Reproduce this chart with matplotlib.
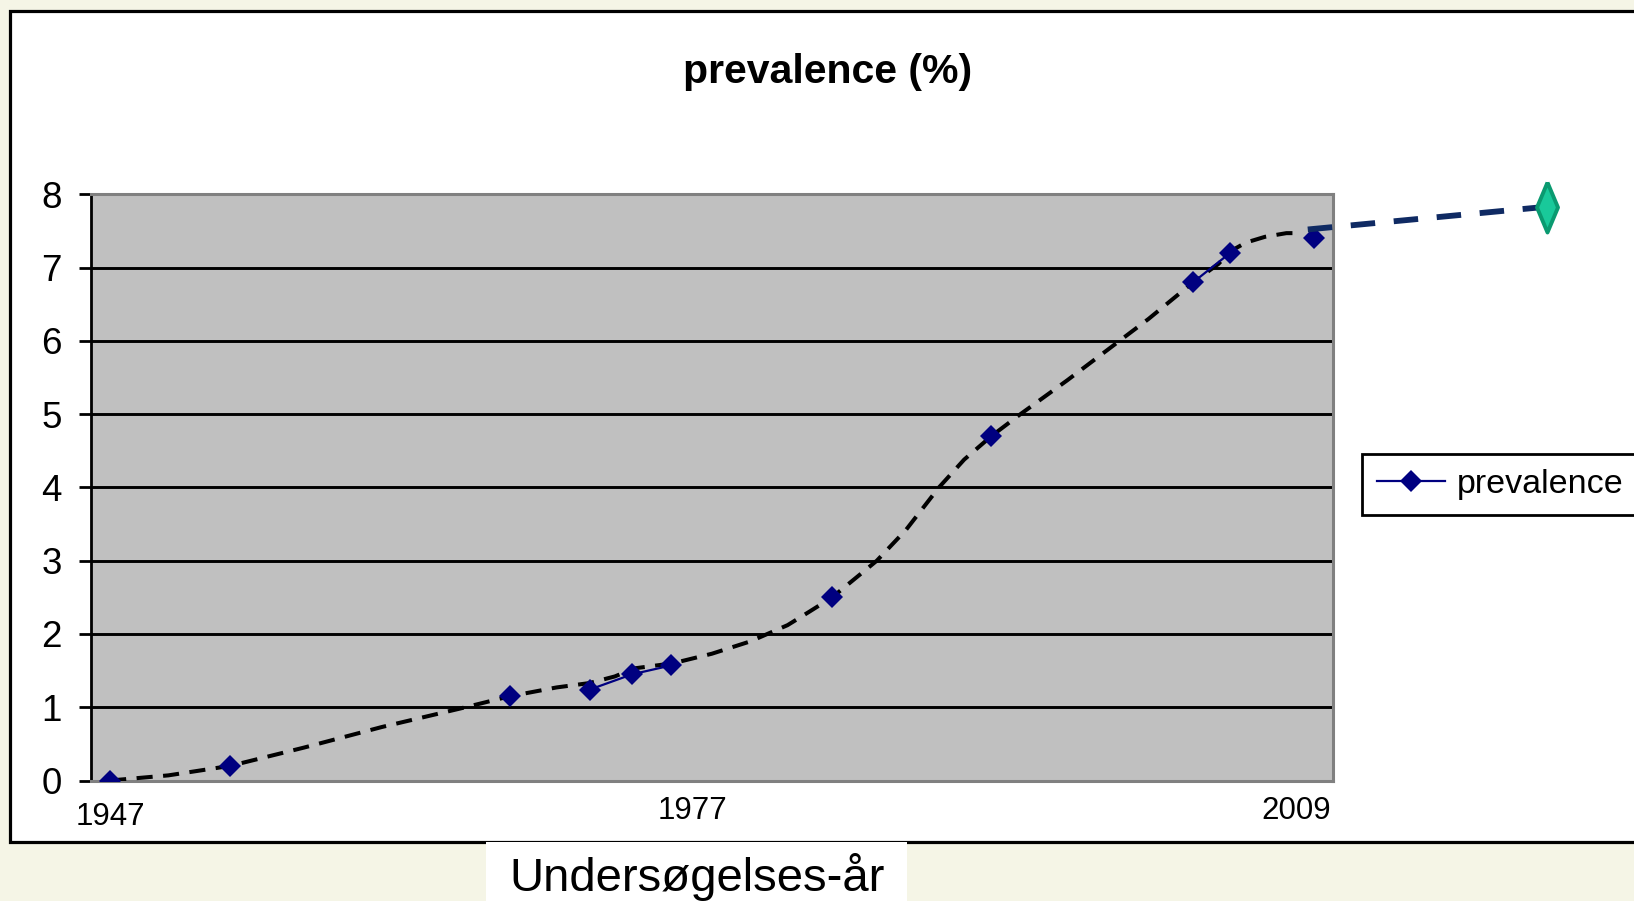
import numpy as np
import matplotlib
matplotlib.use("Agg")
import matplotlib.pyplot as plt
from matplotlib.patches import Rectangle
from matplotlib.transforms import ScaledTranslation

plt.rcParams['font.family'] = ['Liberation Sans', 'DejaVu Sans']

# survey points (year, prevalence %) and which ones are joined by a line
years = [1947, 1953.2, 1967.6, 1971.7, 1973.9, 1975.9, 1984.2, 1992.4, 2002.8, 2004.7, 2009]
prevalence = [0.0, 0.2, 1.15, 1.24, 1.45, 1.57, 2.5, 4.7, 6.8, 7.2, 7.4]
group = [0, 1, 2, 3, 3, 3, 4, 5, 6, 6, 7]

# hand drawn trend curve
trend_years = [1947, 1950, 1953.2, 1957, 1961, 1965, 1967.6, 1970, 1971.7, 1973, 1974, 1976,
               1978, 1980, 1981.9, 1983, 1984.2, 1986.5, 1988, 1989.7, 1991, 1992.4, 1993.9,
               1996.3, 1998.5, 2000.5, 2002.8, 2004.1, 2004.7, 2005.5, 2006.5, 2007.6, 2008.4]
trend_vals = [0.0, 0.07, 0.2, 0.45, 0.73, 0.98, 1.15, 1.27, 1.33, 1.42, 1.53, 1.6,
              1.73, 1.9, 2.12, 2.3, 2.5, 3.0, 3.42, 4.0, 4.38, 4.7, 5.0,
              5.46, 5.9, 6.3, 6.8, 7.05, 7.22, 7.34, 7.42, 7.47, 7.47]

# projection
proj_years = [2008.7, 2021]
proj_vals = [7.52, 7.83]

xtick_years = [1947, 1977, 2009]
ytick_vals = list(range(0, 9))

W, H = 1634, 901
fig = plt.figure(figsize=(W / 100, H / 100), dpi=100, facecolor='#F5F5E6')

# white chart frame with black border
fig.patches.append(Rectangle((9.5 / W, 1 - 842 / H), 1.0, (842 - 10.5) / H,
                             transform=fig.transFigure, facecolor='white',
                             edgecolor='black', linewidth=2.3, zorder=-5))

ax = fig.add_axes([90.7 / W, 1 - 780.5 / H, (1333 - 90.7) / W, (780.5 - 194.3) / H])
ax.set_facecolor('#C0C0C0')
ax.set_xlim(1946, 2010)
ax.set_ylim(0, 8)

for v in ytick_vals[1:-1]:
    ax.axhline(v, color='black', lw=2.1, zorder=1)

ax.plot(trend_years, trend_vals, color='black', lw=2.9, dashes=(4.0, 2.6), zorder=3)

first = True
for g in sorted(set(group)):
    xs = [x for x, gg in zip(years, group) if gg == g]
    ys = [y for y, gg in zip(prevalence, group) if gg == g]
    ax.plot(xs, ys, color='#000080', lw=1.6, marker='D', ms=11.5, mew=0,
            label='prevalence' if first else None, zorder=4)
    first = False

ax.plot(proj_years, proj_vals, color='#0F2A63', lw=4.2, dashes=(4.2, 3.2),
        clip_on=False, zorder=5)
thin_diamond = [(0, 1), (0.42, 0), (0, -1), (-0.42, 0), (0, 1)]
ax.plot(proj_years[-1:], proj_vals[-1:], linestyle='none', marker=thin_diamond, ms=36,
        markerfacecolor='#19C99A', markeredgecolor='#0A9A70', mew=2.8,
        clip_on=False, zorder=6)

for side in ['top', 'bottom', 'right']:
    ax.spines[side].set_color('#808080')
    ax.spines[side].set_linewidth(2.2)
ax.spines['left'].set_color('black')
ax.spines['left'].set_linewidth(2)

ax.set_yticks(ytick_vals)
ax.tick_params(axis='y', length=9, width=2, pad=12, labelsize=26.5, color='black')
ax.set_xticks(xtick_years)
ax.set_xticklabels([str(y) for y in xtick_years])
ax.tick_params(axis='x', length=0, pad=11, labelsize=22.5)
labs = ax.get_xticklabels()
labs[0].set_transform(labs[0].get_transform() + ScaledTranslation(0, -6 / 100, fig.dpi_scale_trans))
labs[-1].set_transform(labs[-1].get_transform() + ScaledTranslation(-17 / 100, 0, fig.dpi_scale_trans))

fig.text(828 / W, 1 - 72 / H, 'prevalence (%)', ha='center', va='center',
         fontsize=29.5, fontweight='bold')

leg = fig.legend(loc='center left', bbox_to_anchor=(1362 / W, 1 - 484.5 / H),
                 bbox_transform=fig.transFigure, fontsize=24.5, frameon=True,
                 fancybox=False, edgecolor='black', framealpha=1, borderaxespad=0,
                 handlelength=2.0, handletextpad=0.35, borderpad=0.45)
leg.get_frame().set_linewidth(2)

# axis title in its own white box over the frame
fig.patches.append(Rectangle((486 / W, 0), (907 - 486) / W, 59 / H, transform=fig.transFigure,
                             facecolor='white', edgecolor='none', zorder=10))
fig.text(697 / W, 1 - 877 / H, 'Undersøgelses-år', ha='center', va='center',
         fontsize=34, zorder=11)

fig.savefig('out.png', dpi=100, facecolor=fig.get_facecolor())
